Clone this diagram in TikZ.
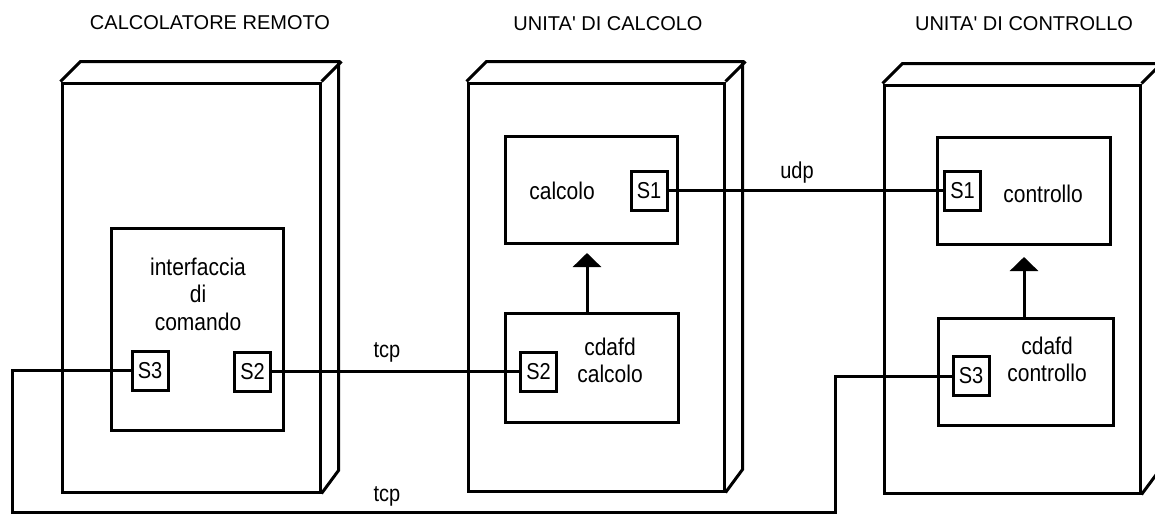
\documentclass[tikz,border=0pt]{standalone}
\usepackage{fontspec}
\usepackage{graphicx}
\setmainfont{Liberation Sans}
\usetikzlibrary{arrows.meta}
\newcommand\vst[1]{\scalebox{1}[1.15]{#1}}
\begin{document}
\begin{tikzpicture}[x=1pt,y=-1pt,
  ln/.style={line width=3pt,line join=miter},
  bx/.style 2 args={draw,line width=3pt,inner sep=0pt,minimum width=#1pt,minimum height=#2pt},
  port/.style={draw,line width=3pt,inner sep=0pt,minimum width=36pt,minimum height=39pt,font=\fontsize{20}{24}\selectfont},
  ttl/.style={inner sep=0pt,font=\fontsize{20}{24}\selectfont},
  txt/.style={inner sep=0pt,align=center,font=\fontsize{21}{27.5}\selectfont},
  lbl/.style={inner sep=0pt,font=\fontsize{20}{24}\selectfont},
  arr/.style={line width=3pt,-{Triangle[length=14pt,width=28pt]}}]
\useasboundingbox (0,0) rectangle (1155,514);
\clip (0,0) rectangle (1155,514);
\fill[white] (0,0) rectangle (1155,514);

% titles
\node[ttl] (t1) at (210,23) {CALCOLATORE REMOTO};
\node[ttl] (t2) at (608,24) {UNITA\textquotesingle{} DI CALCOLO};
\node[ttl] (t3) at (1024,24) {UNITA\textquotesingle{} DI CONTROLLO};

% 3D nodes
\node[bx={258}{409}] (r) at (191,287.5) {};
\draw[ln] (r.north west) -- ++(20,-20) -- ++(258,0) -- ++(0,409) -- (r.south east);
\draw[ln] (r.north east) -- ++(20,-20);

\node[bx={256}{408}] (c) at (596,287) {};
\draw[ln] (c.north west) -- ++(20,-20) -- ++(256,0) -- ++(0,408) -- (c.south east);
\draw[ln] (c.north east) -- ++(20,-20);

\node[bx={256}{408}] (k) at (1012,289) {};
\draw[ln] (k.north west) -- ++(20,-20) -- ++(256,0) -- ++(0,408) -- (k.south east);
\draw[ln] (k.north east) -- ++(20,-20);

% components
\node[bx={172}{202}] (ri) at (197,329) {};
\node[txt] (rit) at (198,294) {\vst{interfaccia}\\\vst{di}\\\vst{comando}};

\node[bx={172}{107}] (cc) at (591,189.5) {};
\node[txt] (cct) at (562,191) {\vst{calcolo}};

\node[bx={173}{109}] (cd) at (591.5,367.5) {};
\node[txt] (cdt) at (610,360.5) {\vst{cdafd}\\\vst{calcolo}};

\node[bx={173}{107}] (kc) at (1023.5,190.5) {};
\node[txt] (kct) at (1043,194) {\vst{controllo}};

\node[bx={175}{107}] (kd) at (1025.5,371.5) {};
\node[txt] (kdt) at (1047,359.5) {\vst{cdafd}\\\vst{controllo}};

% ports
\node[port] (S3r) at (150,370.5) {\vst{S3}};
\node[port] (S2r) at (252.5,371.5) {\vst{S2}};
\node[port] (S1c) at (649,190.5) {\vst{S1}};
\node[port] (S2c) at (538.5,371.5) {\vst{S2}};
\node[port] (S1k) at (962.5,190.5) {\vst{S1}};
\node[port] (S3k) at (971,376) {\vst{S3}};

% connectors
\draw[ln] (S2r.east) -- (S2c.west);
\draw[ln] (S1c.east) -- (S1k.west);
\coordinate (c1) at (12,370.5);
\coordinate (c2) at (12,512);
\coordinate (c3) at (835,512);
\coordinate (c4) at (835,376);
\draw[ln] (S3r.west) -- (c1) -- (c2) -- (c3) -- (c4) -- (S3k.west);

\coordinate (a1) at (587,253);
\draw[arr] (a1 |- cd.north) -- (a1);
\coordinate (a2) at (1024,257);
\draw[arr] (a2 |- kd.north) -- (a2);

% labels
\node[lbl] (udp) at (797,173) {\vst{udp}};
\node[lbl] (tcp1) at (387,352) {\vst{tcp}};
\node[lbl] (tcp2) at (387,496) {\vst{tcp}};
\end{tikzpicture}
\end{document}
